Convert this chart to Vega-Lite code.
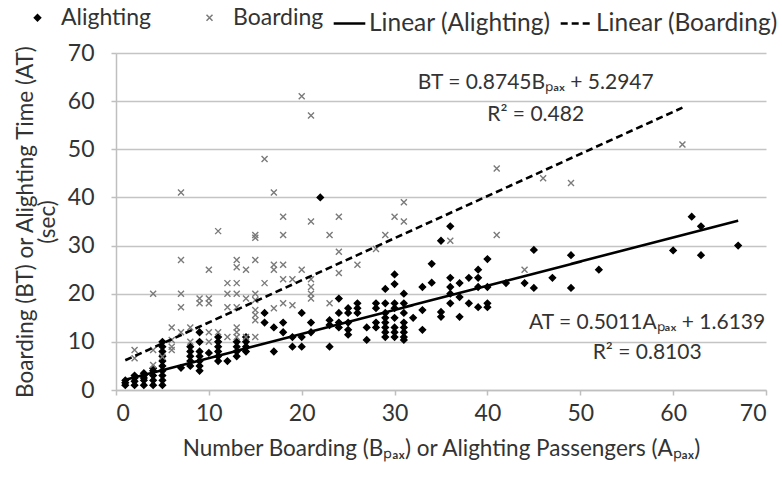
{
  "$schema": "https://vega.github.io/schema/vega-lite/v6.json",
  "width": 650,
  "height": 337,
  "autosize": {"type": "none"},
  "padding": {"left": 116, "top": 53, "right": 16, "bottom": 89},
  "background": "white",
  "config": {
    "view": {"stroke": null},
    "font": "Lato",
    "axis": {"labelFont": "Lato", "titleFont": "Lato", "labelColor": "#333333", "titleColor": "#333333", "titleFontWeight": "normal", "labelFontSize": 23, "titleFontSize": 22.5, "domainColor": "#bfbfbf", "domainWidth": 1.5, "tickColor": "#bfbfbf", "tickWidth": 1.5, "tickSize": 5},
    "legend": {"labelFont": "Lato", "labelFontSize": 24, "labelColor": "#333333", "labelLimit": 400}
  },
  "datasets": {
    "pts": [
      {"x":1,"y":1,"s":"Alighting"},{"x":1,"y":1.5,"s":"Alighting"},{"x":1,"y":2,"s":"Alighting"},
      {"x":2,"y":1,"s":"Alighting"},{"x":2,"y":1.8,"s":"Alighting"},{"x":2,"y":2.5,"s":"Alighting"},{"x":2,"y":3,"s":"Alighting"},
      {"x":3,"y":1,"s":"Alighting"},{"x":3,"y":2,"s":"Alighting"},{"x":3,"y":2.5,"s":"Alighting"},{"x":3,"y":3,"s":"Alighting"},{"x":3,"y":3.5,"s":"Alighting"},
      {"x":4,"y":1,"s":"Alighting"},{"x":4,"y":2,"s":"Alighting"},{"x":4,"y":3,"s":"Alighting"},{"x":4,"y":4,"s":"Alighting"},{"x":4,"y":4.5,"s":"Alighting"},
      {"x":5,"y":1,"s":"Alighting"},{"x":5,"y":2,"s":"Alighting"},{"x":5,"y":3,"s":"Alighting"},{"x":5,"y":4,"s":"Alighting"},{"x":5,"y":5,"s":"Alighting"},{"x":5,"y":6,"s":"Alighting"},{"x":5,"y":7,"s":"Alighting"},{"x":5,"y":8,"s":"Alighting"},{"x":5,"y":9,"s":"Alighting"},{"x":5,"y":10,"s":"Alighting"},
      {"x":7,"y":4.6,"s":"Alighting"},
      {"x":8,"y":5,"s":"Alighting"},{"x":8,"y":6,"s":"Alighting"},{"x":8,"y":7,"s":"Alighting"},{"x":8,"y":8,"s":"Alighting"},{"x":8,"y":9,"s":"Alighting"},
      {"x":9,"y":4,"s":"Alighting"},{"x":9,"y":5,"s":"Alighting"},{"x":9,"y":6,"s":"Alighting"},{"x":9,"y":7,"s":"Alighting"},{"x":9,"y":8,"s":"Alighting"},{"x":9,"y":10,"s":"Alighting"},{"x":9,"y":12,"s":"Alighting"},
      {"x":10,"y":7.7,"s":"Alighting"},
      {"x":11,"y":6,"s":"Alighting"},{"x":11,"y":7,"s":"Alighting"},{"x":11,"y":8,"s":"Alighting"},{"x":11,"y":9,"s":"Alighting"},{"x":11,"y":10,"s":"Alighting"},{"x":11,"y":11,"s":"Alighting"},
      {"x":12,"y":6,"s":"Alighting"},
      {"x":13,"y":7,"s":"Alighting"},{"x":13,"y":8,"s":"Alighting"},{"x":13,"y":9,"s":"Alighting"},{"x":13,"y":10,"s":"Alighting"},
      {"x":14,"y":8,"s":"Alighting"},{"x":14,"y":9,"s":"Alighting"},{"x":14,"y":10,"s":"Alighting"},{"x":14,"y":11,"s":"Alighting"},
      {"x":16,"y":14,"s":"Alighting"},{"x":16,"y":16,"s":"Alighting"},
      {"x":17,"y":8,"s":"Alighting"},{"x":17,"y":13,"s":"Alighting"},
      {"x":18,"y":12,"s":"Alighting"},{"x":18,"y":14,"s":"Alighting"},
      {"x":19,"y":9,"s":"Alighting"},{"x":19,"y":11,"s":"Alighting"},
      {"x":20,"y":9,"s":"Alighting"},{"x":20,"y":11,"s":"Alighting"},{"x":20,"y":16,"s":"Alighting"},
      {"x":21,"y":12,"s":"Alighting"},{"x":21,"y":14,"s":"Alighting"},
      {"x":22,"y":40,"s":"Alighting"},
      {"x":23,"y":9,"s":"Alighting"},{"x":23,"y":13.5,"s":"Alighting"},{"x":23,"y":14.5,"s":"Alighting"},
      {"x":24,"y":13,"s":"Alighting"},{"x":24,"y":14,"s":"Alighting"},{"x":24,"y":16,"s":"Alighting"},{"x":24,"y":19,"s":"Alighting"},
      {"x":25,"y":11.5,"s":"Alighting"},{"x":25,"y":12.5,"s":"Alighting"},{"x":25,"y":14,"s":"Alighting"},{"x":25,"y":16,"s":"Alighting"},{"x":25,"y":17,"s":"Alighting"},
      {"x":26,"y":16,"s":"Alighting"},{"x":26,"y":17,"s":"Alighting"},{"x":26,"y":18,"s":"Alighting"},
      {"x":27,"y":10.4,"s":"Alighting"},{"x":27,"y":13,"s":"Alighting"},
      {"x":28,"y":13,"s":"Alighting"},{"x":28,"y":14,"s":"Alighting"},{"x":28,"y":17,"s":"Alighting"},{"x":28,"y":18,"s":"Alighting"},
      {"x":29,"y":11,"s":"Alighting"},{"x":29,"y":12,"s":"Alighting"},{"x":29,"y":13,"s":"Alighting"},{"x":29,"y":14,"s":"Alighting"},{"x":29,"y":15,"s":"Alighting"},{"x":29,"y":16,"s":"Alighting"},{"x":29,"y":18,"s":"Alighting"},{"x":29,"y":21,"s":"Alighting"},
      {"x":30,"y":11,"s":"Alighting"},{"x":30,"y":12,"s":"Alighting"},{"x":30,"y":13,"s":"Alighting"},{"x":30,"y":15,"s":"Alighting"},{"x":30,"y":17,"s":"Alighting"},{"x":30,"y":18,"s":"Alighting"},{"x":30,"y":22,"s":"Alighting"},{"x":30,"y":24,"s":"Alighting"},
      {"x":31,"y":10.4,"s":"Alighting"},{"x":31,"y":11,"s":"Alighting"},{"x":31,"y":12,"s":"Alighting"},{"x":31,"y":13,"s":"Alighting"},{"x":31,"y":14,"s":"Alighting"},{"x":31,"y":16,"s":"Alighting"},{"x":31,"y":18,"s":"Alighting"},{"x":31,"y":20,"s":"Alighting"},
      {"x":32,"y":15,"s":"Alighting"},
      {"x":33,"y":12.5,"s":"Alighting"},{"x":33,"y":16.6,"s":"Alighting"},{"x":33,"y":21.4,"s":"Alighting"},
      {"x":34,"y":22.3,"s":"Alighting"},{"x":34,"y":26.2,"s":"Alighting"},
      {"x":35,"y":15.2,"s":"Alighting"},{"x":35,"y":16.2,"s":"Alighting"},{"x":35,"y":31,"s":"Alighting"},
      {"x":36,"y":18,"s":"Alighting"},{"x":36,"y":20,"s":"Alighting"},{"x":36,"y":21.4,"s":"Alighting"},{"x":36,"y":23.3,"s":"Alighting"},{"x":36,"y":34,"s":"Alighting"},
      {"x":37,"y":15.2,"s":"Alighting"},{"x":37,"y":19.3,"s":"Alighting"},{"x":37,"y":22.2,"s":"Alighting"},
      {"x":38,"y":18,"s":"Alighting"},{"x":38,"y":23.3,"s":"Alighting"},
      {"x":39,"y":17.2,"s":"Alighting"},{"x":39,"y":21.4,"s":"Alighting"},{"x":39,"y":23.3,"s":"Alighting"},{"x":39,"y":25,"s":"Alighting"},
      {"x":40,"y":17.2,"s":"Alighting"},{"x":40,"y":18,"s":"Alighting"},{"x":40,"y":21.4,"s":"Alighting"},{"x":40,"y":27.2,"s":"Alighting"},
      {"x":42,"y":22.2,"s":"Alighting"},
      {"x":44,"y":22.2,"s":"Alighting"},
      {"x":45,"y":21.2,"s":"Alighting"},{"x":45,"y":29.1,"s":"Alighting"},
      {"x":47,"y":23.3,"s":"Alighting"},
      {"x":49,"y":21.2,"s":"Alighting"},{"x":49,"y":28,"s":"Alighting"},
      {"x":52,"y":25,"s":"Alighting"},
      {"x":60,"y":29,"s":"Alighting"},
      {"x":62,"y":36,"s":"Alighting"},
      {"x":63,"y":34,"s":"Alighting"},{"x":63,"y":28,"s":"Alighting"},
      {"x":67,"y":30,"s":"Alighting"},
      {"x":2,"y":6.6,"s":"Boarding"},{"x":2,"y":8.3,"s":"Boarding"},{"x":4,"y":5.2,"s":"Boarding"},{"x":4,"y":8.3,"s":"Boarding"},{"x":4,"y":20,"s":"Boarding"},
      {"x":5,"y":6.9,"s":"Boarding"},{"x":6,"y":8.3,"s":"Boarding"},{"x":6,"y":9,"s":"Boarding"},{"x":6,"y":10.4,"s":"Boarding"},{"x":6,"y":13,"s":"Boarding"},
      {"x":7,"y":12,"s":"Boarding"},{"x":7,"y":17.2,"s":"Boarding"},{"x":7,"y":20,"s":"Boarding"},{"x":7,"y":27,"s":"Boarding"},{"x":7,"y":41,"s":"Boarding"},
      {"x":8,"y":10,"s":"Boarding"},{"x":8,"y":13,"s":"Boarding"},{"x":9,"y":18,"s":"Boarding"},{"x":9,"y":19,"s":"Boarding"},
      {"x":10,"y":10,"s":"Boarding"},{"x":10,"y":12,"s":"Boarding"},{"x":10,"y":18,"s":"Boarding"},{"x":10,"y":19,"s":"Boarding"},{"x":10,"y":25,"s":"Boarding"},
      {"x":11,"y":12,"s":"Boarding"},{"x":11,"y":33,"s":"Boarding"},
      {"x":12,"y":11,"s":"Boarding"},{"x":12,"y":17.2,"s":"Boarding"},{"x":12,"y":20,"s":"Boarding"},{"x":12,"y":22.2,"s":"Boarding"},
      {"x":13,"y":11,"s":"Boarding"},{"x":13,"y":12,"s":"Boarding"},{"x":13,"y":13,"s":"Boarding"},{"x":13,"y":17.2,"s":"Boarding"},{"x":13,"y":20,"s":"Boarding"},{"x":13,"y":22.2,"s":"Boarding"},{"x":13,"y":25.5,"s":"Boarding"},{"x":13,"y":27,"s":"Boarding"},
      {"x":14,"y":11,"s":"Boarding"},{"x":14,"y":19,"s":"Boarding"},{"x":14,"y":25,"s":"Boarding"},
      {"x":15,"y":11,"s":"Boarding"},{"x":15,"y":14.5,"s":"Boarding"},{"x":15,"y":15.6,"s":"Boarding"},{"x":15,"y":16.6,"s":"Boarding"},{"x":15,"y":18.7,"s":"Boarding"},{"x":15,"y":20,"s":"Boarding"},{"x":15,"y":27,"s":"Boarding"},{"x":15,"y":31.6,"s":"Boarding"},{"x":15,"y":32.2,"s":"Boarding"},
      {"x":16,"y":22.2,"s":"Boarding"},{"x":16,"y":48,"s":"Boarding"},
      {"x":17,"y":17,"s":"Boarding"},{"x":17,"y":25,"s":"Boarding"},{"x":17,"y":26,"s":"Boarding"},{"x":17,"y":41,"s":"Boarding"},
      {"x":18,"y":18,"s":"Boarding"},{"x":18,"y":23,"s":"Boarding"},{"x":18,"y":26,"s":"Boarding"},{"x":18,"y":32.2,"s":"Boarding"},{"x":18,"y":36,"s":"Boarding"},
      {"x":19,"y":17.6,"s":"Boarding"},{"x":19,"y":23,"s":"Boarding"},{"x":20,"y":25,"s":"Boarding"},{"x":20,"y":61,"s":"Boarding"},
      {"x":21,"y":19,"s":"Boarding"},{"x":21,"y":20,"s":"Boarding"},{"x":21,"y":21.4,"s":"Boarding"},{"x":21,"y":23,"s":"Boarding"},{"x":21,"y":35,"s":"Boarding"},{"x":21,"y":57,"s":"Boarding"},
      {"x":23,"y":18,"s":"Boarding"},{"x":23,"y":32.2,"s":"Boarding"},
      {"x":24,"y":24.3,"s":"Boarding"},{"x":24,"y":28.7,"s":"Boarding"},{"x":24,"y":36,"s":"Boarding"},
      {"x":26,"y":26,"s":"Boarding"},{"x":28,"y":29.3,"s":"Boarding"},{"x":29,"y":32.2,"s":"Boarding"},{"x":30,"y":36,"s":"Boarding"},
      {"x":31,"y":35,"s":"Boarding"},{"x":31,"y":39,"s":"Boarding"},{"x":36,"y":31,"s":"Boarding"},
      {"x":41,"y":32.2,"s":"Boarding"},{"x":41,"y":46,"s":"Boarding"},{"x":44,"y":25,"s":"Boarding"},
      {"x":46,"y":44,"s":"Boarding"},{"x":49,"y":43,"s":"Boarding"},{"x":61,"y":51,"s":"Boarding"}
    ],
    "trends": [
      {"x":1,"y":2.12,"t":"Linear (Alighting)"},{"x":67,"y":35.19,"t":"Linear (Alighting)"},
      {"x":1,"y":6.17,"t":"Linear (Boarding)"},{"x":61,"y":58.64,"t":"Linear (Boarding)"}
    ],
    "notes": [
      {"x":45.2,"y":63.8,"label":"BT = 0.8745Bₚₐₓ + 5.2947"},
      {"x":45.2,"y":57.1,"label":"R² = 0.482"},
      {"x":57.2,"y":13.9,"label":"AT = 0.5011Aₚₐₓ + 1.6139"},
      {"x":57.2,"y":7.7,"label":"R² = 0.8103"}
    ]
  },
  "layer": [
    {
      "data": {"name": "pts"},
      "mark": {"type": "point", "filled": true, "strokeWidth": 1.4, "opacity": 1},
      "encoding": {
        "x": {"field": "x", "type": "quantitative", "scale": {"domain": [0, 70], "nice": false},
              "axis": {"values": [0,10,20,30,40,50,60,70], "grid": false, "labelPadding": 7, "titlePadding": 12,
                       "title": "Number Boarding (Bₚₐₓ) or Alighting Passengers (Aₚₐₓ)"}},
        "y": {"field": "y", "type": "quantitative", "scale": {"domain": [0, 70], "nice": false},
              "axis": {"values": [0,10,20,30,40,50,60,70], "grid": true, "gridColor": "#c4c4c4", "gridWidth": 1.5, "labelPadding": 17, "titlePadding": 8, "titleLineHeight": 22,
                       "title": ["Boarding (BT) or Alighting Time (AT)", "(sec)"]}},
        "color": {"field": "s", "type": "nominal", "scale": {"domain": ["Alighting", "Boarding"], "range": ["#000000", "#7a7a7a"]},
                  "legend": {"orient": "none", "legendX": -90, "legendY": -47, "direction": "horizontal", "title": null, "columnPadding": 46, "labelOffset": 12, "labelFontSize": 23}},
        "stroke": {"field": "s", "type": "nominal", "scale": {"domain": ["Alighting", "Boarding"], "range": ["#000000", "#7a7a7a"]}},
        "shape": {"field": "s", "type": "nominal", "scale": {"domain": ["Alighting", "Boarding"], "range": ["diamond", "M-1,-1L1,1M-1,1L1,-1"]}},
        "size": {"field": "s", "type": "nominal", "scale": {"domain": ["Alighting", "Boarding"], "range": [40, 36]}}
      }
    },
    {
      "data": {"name": "trends"},
      "mark": {"type": "line", "color": "#000000", "strokeWidth": 2.6},
      "encoding": {
        "x": {"field": "x", "type": "quantitative"},
        "y": {"field": "y", "type": "quantitative"},
        "strokeDash": {"field": "t", "type": "nominal", "scale": {"domain": ["Linear (Alighting)", "Linear (Boarding)"], "range": [[1, 0], [7, 4]]},
                       "legend": {"orient": "none", "legendX": 216, "legendY": -47, "direction": "horizontal", "title": null, "symbolType": "stroke", "symbolSize": 1000, "symbolStrokeWidth": 2.6, "symbolStrokeColor": "#000000", "labelOffset": 2, "columnPadding": 4, "labelFontSize": 24.5}}
      }
    },
    {
      "data": {"name": "notes"},
      "mark": {"type": "text", "align": "center", "baseline": "middle", "font": "Lato", "fontSize": 21, "color": "#333333"},
      "encoding": {
        "x": {"field": "x", "type": "quantitative"},
        "y": {"field": "y", "type": "quantitative"},
        "text": {"field": "label"}
      }
    }
  ]
}
